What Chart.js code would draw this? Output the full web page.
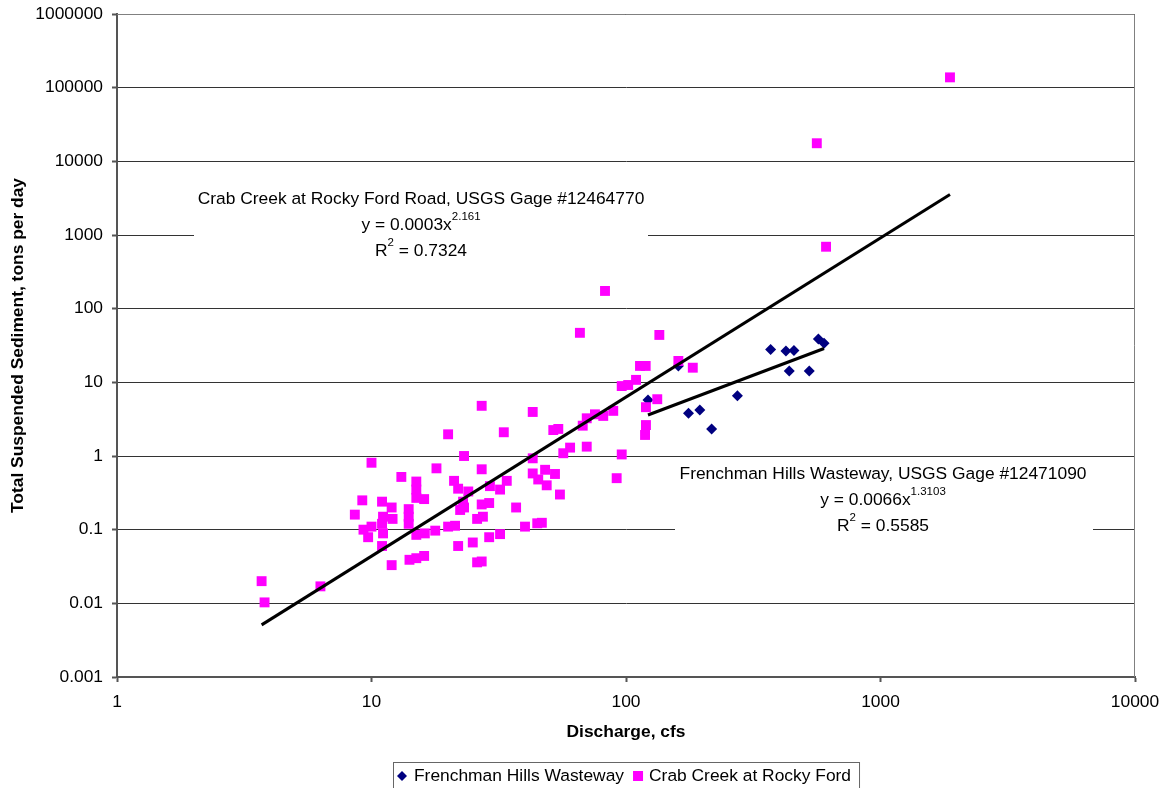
<!DOCTYPE html>
<html>
<head>
<meta charset="utf-8">
<script src="https://cdn.jsdelivr.net/npm/chart.js@4.4.1/dist/chart.umd.min.js"></script>
<style>
  html, body { margin: 0; padding: 0; background: #fff; }
</style>
</head>
<body>
<canvas id="sedChart" width="1166" height="788"></canvas>
<script>
// Frenchman Hills Wasteway (discharge cfs / TSS tons per day)
const frenchQ = [122, 160.6, 176, 195, 217, 274, 370, 425, 457, 438, 525, 570, 600]
const frenchTSS = [5.75, 16.7, 3.8, 4.2, 2.33, 6.6, 28, 26.6, 27, 14.3, 14.3, 38.7, 34]

// Crab Creek at Rocky Ford
const crabQ = [3.7, 3.8, 6.3, 8.6, 9.2, 9.3, 10, 10, 9.7, 11,
  11.1, 11, 11.1, 11, 12, 12.1, 12, 13.1, 15, 15,
  15, 16.1, 14, 14, 14, 15, 16.2, 14.1, 15, 16.1,
  17.8, 18, 20, 20, 21.1, 21.3, 21.9, 21.9, 22.3, 22.9,
  23.1, 23.1, 24, 25, 26, 26, 27.1, 27.1, 27.1, 27.4,
  27.1, 29, 29, 29.2, 32, 32, 33.1, 34, 37, 40.1,
  43, 43, 43, 44.8, 45.2, 46.7, 48.1, 48.8, 51.8, 52.6,
  54.2, 55, 56.7, 60.3, 67.6, 70.1, 70.1, 75.5, 65.9, 81.4,
  89.1, 91.9, 96.2, 102, 109.5, 96.2, 113.5, 119.5, 119.8, 119.8,
  118.8, 132.7, 135.2, 160.6, 183, 82.7, 1875, 562, 611]
const crabTSS = [0.02, 0.0103, 0.017, 0.16, 0.25, 0.1, 0.81, 0.11, 0.079, 0.24,
  0.15, 0.12, 0.089, 0.06, 0.2, 0.14, 0.033, 0.52, 0.45, 0.35,
  0.27, 0.26, 0.19, 0.15, 0.12, 0.085, 0.089, 0.039, 0.041, 0.044,
  0.097, 0.68, 1.97, 0.11, 0.46, 0.113, 0.36, 0.06, 0.185, 0.24,
  0.2, 1.0, 0.33, 0.067, 0.14, 0.036, 4.8, 0.66, 0.22, 0.15,
  0.037, 0.23, 0.079, 0.39, 0.35, 0.087, 2.1, 0.46, 0.2, 0.11,
  3.96, 0.93, 0.58, 0.122, 0.48, 0.124, 0.65, 0.4, 2.25, 0.57,
  2.33, 0.3, 1.09, 1.3, 2.58, 3.25, 1.34, 3.68, 47, 3.5,
  4.1, 0.5, 8.9, 9.2, 10.8, 1.05, 16.7, 16.7, 4.6, 2.63,
  1.93, 5.9, 44, 19.5, 15.8, 174, 138000, 17600, 693]

// power trendline end points (straight on log-log)
const crabTrendQ = [3.7, 1875]
const crabTrendTSS = [0.0051, 3550]
const frenchTrendQ = [122, 600]
const frenchTrendTSS = [3.6, 28.8]

const xTicks = [1, 10, 100, 1000, 10000]
const yTicks = [0.001, 0.01, 0.1, 1, 10, 100, 1000, 10000, 100000, 1000000]

const seriesNames = ['Frenchman Hills Wasteway', 'Crab Creek at Rocky Ford']
const crabNote = [
  [['Crab Creek at Rocky Ford Road, USGS Gage #12464770', 0]],
  [['y = 0.0003x', 0], ['2.161', 1]],
  [['R', 0], ['2', 1], [' = 0.7324', 0]]
]
const frenchNote = [
  [['Frenchman Hills Wasteway, USGS Gage #12471090', 0]],
  [['y = 0.0066x', 0], ['1.3103', 1]],
  [['R', 0], ['2', 1], [' = 0.5585', 0]]
]

const FAMILY = '"Liberation Sans", Arial, sans-serif'
const NAVY = '#000080', PINK = '#FF00FF'

const pts = (xs, ys) => xs.map((x, i) => ({x: x, y: ys[i]}))

Chart.defaults.font.family = FAMILY
Chart.defaults.font.size = 17.4
Chart.defaults.color = '#000'

function drawNote(ctx, lines, cx, ys) {
  ctx.textBaseline = 'middle'
  ctx.textAlign = 'left'
  ctx.fillStyle = '#000'
  lines.forEach((parts, li) => {
    let total = 0
    parts.forEach(p => {
      ctx.font = (p[1] ? '11.5px ' : '17.4px ') + FAMILY
      total += ctx.measureText(p[0]).width
    })
    let x = cx - total / 2
    parts.forEach(p => {
      ctx.font = (p[1] ? '11.5px ' : '17.4px ') + FAMILY
      ctx.fillText(p[0], x, p[1] ? ys[li] - 8 : ys[li])
      x += ctx.measureText(p[0]).width
    })
  })
}

const extras = {
  id: 'extras',
  beforeDatasetsDraw(chart) {
    const ctx = chart.ctx, a = chart.chartArea
    ctx.save()
    // plot frame (top / right)
    ctx.strokeStyle = '#808080'
    ctx.lineWidth = 1
    ctx.beginPath()
    ctx.moveTo(a.left, a.top + 0.5)
    ctx.lineTo(a.right - 0.5, a.top + 0.5)
    ctx.lineTo(a.right - 0.5, a.bottom)
    ctx.stroke()
    // trendline label boxes
    ctx.fillStyle = '#fff'
    ctx.fillRect(194, 186, 454, 78)
    ctx.fillRect(675, 462, 418, 76)
    drawNote(ctx, crabNote, 421, [199, 225, 251])
    drawNote(ctx, frenchNote, 883, [474, 500, 526])
    ctx.restore()
  },
  afterDraw(chart) {
    const ctx = chart.ctx
    const ds = chart.data.datasets
    ctx.save()
    ctx.font = '17.4px ' + FAMILY
    ctx.textBaseline = 'middle'
    ctx.textAlign = 'left'
    const x0 = 393, top = 762, cy = 776
    const w1 = ctx.measureText(ds[0].label).width
    const w2 = ctx.measureText(ds[1].label).width
    const m1 = x0 + 9, t1 = x0 + 21
    const m2 = t1 + w1 + 14, t2 = m2 + 11
    const right = t2 + w2 + 8
    ctx.strokeStyle = '#666'
    ctx.lineWidth = 1
    ctx.strokeRect(x0 + 0.5, top + 0.5, right - x0, 40)
    ctx.fillStyle = ds[0].backgroundColor
    ctx.beginPath()
    ctx.moveTo(m1 - 5, cy); ctx.lineTo(m1, cy - 5); ctx.lineTo(m1 + 5, cy); ctx.lineTo(m1, cy + 5)
    ctx.closePath(); ctx.fill()
    ctx.fillStyle = ds[1].backgroundColor
    ctx.fillRect(m2 - 5, cy - 5, 10, 10)
    ctx.fillStyle = '#000'
    ctx.fillText(ds[0].label, t1, cy)
    ctx.fillText(ds[1].label, t2, cy)
    ctx.restore()
  }
}

new Chart(document.getElementById('sedChart'), {
  type: 'scatter',
  data: {
    datasets: [
      {
        label: seriesNames[0],
        data: pts(frenchQ, frenchTSS),
        pointStyle: 'rectRot',
        pointRadius: 5.5,
        pointHoverRadius: 5.5,
        backgroundColor: NAVY,
        borderColor: NAVY,
        borderWidth: 0,
        order: 3
      },
      {
        label: seriesNames[1],
        data: pts(crabQ, crabTSS),
        pointStyle: 'rect',
        pointRadius: 7,
        pointHoverRadius: 7,
        backgroundColor: PINK,
        borderColor: PINK,
        borderWidth: 0,
        order: 2
      },
      {
        label: 'crab trend',
        data: pts(crabTrendQ, crabTrendTSS),
        showLine: true,
        pointRadius: 0,
        borderColor: '#000',
        borderWidth: 3,
        fill: false,
        order: 1
      },
      {
        label: 'french trend',
        data: pts(frenchTrendQ, frenchTrendTSS),
        showLine: true,
        pointRadius: 0,
        borderColor: '#000',
        borderWidth: 3,
        fill: false,
        order: 1
      }
    ]
  },
  options: {
    responsive: false,
    animation: false,
    devicePixelRatio: 1,
    layout: { padding: { top: 14, right: 31, left: 0, bottom: 0 } },
    plugins: {
      legend: { display: false },
      tooltip: { enabled: false }
    },
    scales: {
      x: {
        type: 'logarithmic',
        min: 1,
        max: 10000,
        afterBuildTicks: s => { s.ticks = xTicks.map(v => ({value: v})) },
        afterFit: s => { s.height = 111; s.paddingLeft = 0; s.paddingRight = 0 },
        ticks: { padding: 10, maxRotation: 0, autoSkip: false, callback: v => String(v) },
        grid: { drawOnChartArea: false, drawTicks: true, tickLength: 5, tickColor: '#555', tickWidth: 2 },
        border: { color: '#555', width: 2 },
        title: {
          display: true,
          text: 'Discharge, cfs',
          font: { weight: 'bold', size: 17.4 },
          padding: { top: 0, bottom: 45.5 }
        }
      },
      y: {
        type: 'logarithmic',
        min: 0.001,
        max: 1000000,
        afterBuildTicks: s => { s.ticks = yTicks.map(v => ({value: v})) },
        afterFit: s => { s.width = 117; s.paddingTop = 0; s.paddingBottom = 0 },
        ticks: { padding: 9, autoSkip: false, callback: v => String(v) },
        grid: { color: '#333', lineWidth: 1, drawTicks: true, tickLength: 5, tickColor: '#555', tickWidth: 2 },
        border: { color: '#555', width: 2 },
        title: {
          display: true,
          text: 'Total Suspended Sediment, tons per day',
          font: { weight: 'bold', size: 17.4 },
          padding: { top: 7.5, bottom: 0 }
        }
      }
    }
  },
  plugins: [extras]
})
</script>
</body>
</html>
